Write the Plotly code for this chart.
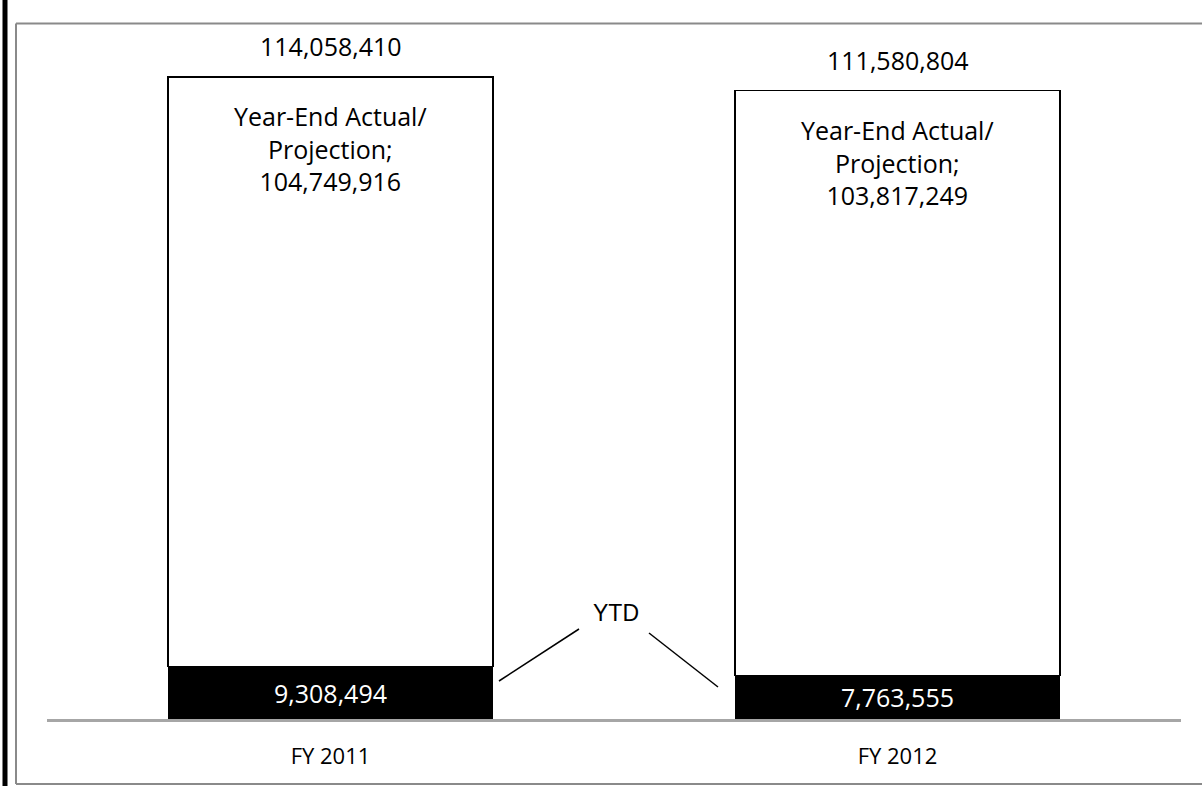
import plotly.graph_objects as go

categories = ["FY 2011", "FY 2012"]
ytd = [9308494, 7763555]
year_end = [104749916, 103817249]
totals = [114058410, 111580804]
ytd_label = "YTD"
year_end_label = "Year-End Actual/<br>Projection;"

FONT = "Open Sans"
W, H = 1202, 786
AX_L, AX_R, AX_Y, TOP = 47, 1181, 719, 40
ML, MR, MT, MB = AX_L, W - AX_R, TOP, H - AX_Y
PW = W - ML - MR
PH = H - MT - MB

def px_x(p):
    return (p - ML) / PW

def px_y(p):
    return (AX_Y - p) / PH

fig = go.Figure()
fig.add_trace(go.Bar(
    x=categories, y=ytd, name="YTD",
    marker=dict(color="black", line=dict(color="black", width=1)),
    text=[f"{v:,}" for v in ytd], textposition="inside",
    insidetextanchor="middle", textangle=0,
    textfont=dict(family=FONT, size=25, color="white"),
    width=0.573, hoverinfo="skip",
))
fig.add_trace(go.Bar(
    x=categories, y=year_end, name="Year-End",
    marker=dict(color="white", line=dict(color="black", width=1.5)),
    width=0.573, hoverinfo="skip",
))

annotations = []
for c, ye, t in zip(categories, year_end, totals):
    annotations.append(dict(
        x=c, y=t, xref="x", yref="y", yanchor="bottom", yshift=12,
        text=f"{t:,}", showarrow=False,
        font=dict(family=FONT, size=25, color="black"),
    ))
    annotations.append(dict(
        x=c, y=t, xref="x", yref="y", yanchor="top", yshift=-20,
        text=f"{year_end_label}<br>{ye:,}", showarrow=False,
        font=dict(family=FONT, size=25, color="black"),
    ))

ppv = 177600  # value per pixel

def val(py):
    return (AX_Y - py) * ppv

annotations.append(dict(
    x=0.504, y=val(612.5), xref="x", yref="y", text=ytd_label, showarrow=False,
    font=dict(family="Liberation Sans", size=23, color="black"),
))

cat_px = PW / 2

def cx(p):
    return (p - (ML + cat_px / 2)) / cat_px

border = dict(color="#8a8a8a", width=2)
shapes = [
    dict(type="line", xref="x", yref="y", x0=cx(499), y0=val(681), x1=cx(579), y1=val(629),
         line=dict(color="black", width=1.5)),
    dict(type="line", xref="x", yref="y", x0=cx(649), y0=val(633), x1=cx(718), y1=val(687),
         line=dict(color="black", width=1.5)),
    # frame: left, top, bottom (right side is off-page)
    dict(type="line", xref="paper", yref="paper", x0=px_x(16), x1=px_x(16),
         y0=px_y(784), y1=px_y(23.5), line=border, layer="below"),
    dict(type="line", xref="paper", yref="paper", x0=px_x(16), x1=px_x(1210),
         y0=px_y(23.5), y1=px_y(23.5), line=border, layer="below"),
    dict(type="line", xref="paper", yref="paper", x0=px_x(16), x1=px_x(1210),
         y0=px_y(784), y1=px_y(784), line=border, layer="below"),
    dict(type="line", xref="paper", yref="paper", x0=px_x(5), x1=px_x(5),
         y0=px_y(800), y1=px_y(-10), line=dict(color="black", width=5)),
]

fig.update_layout(
    width=W, height=H,
    margin=dict(l=ML, r=MR, t=MT, b=MB),
    barmode="stack", showlegend=False,
    plot_bgcolor="white", paper_bgcolor="white",
    annotations=annotations, shapes=shapes,
    font=dict(family=FONT),
)
fig.update_xaxes(
    showline=True, linecolor="#a6a6a6", linewidth=2.5,
    showgrid=False, ticks="", ticklabelstandoff=16,
    tickfont=dict(family=FONT, size=22, color="black"),
    range=[-0.5, 1.5],
)
fig.update_yaxes(visible=False, range=[0, PH * ppv], showgrid=False)

fig.write_html(
    "out.html",
    config={"displayModeBar": False},
    post_script="document.body.style.margin='0';document.body.style.overflow='hidden';",
)
